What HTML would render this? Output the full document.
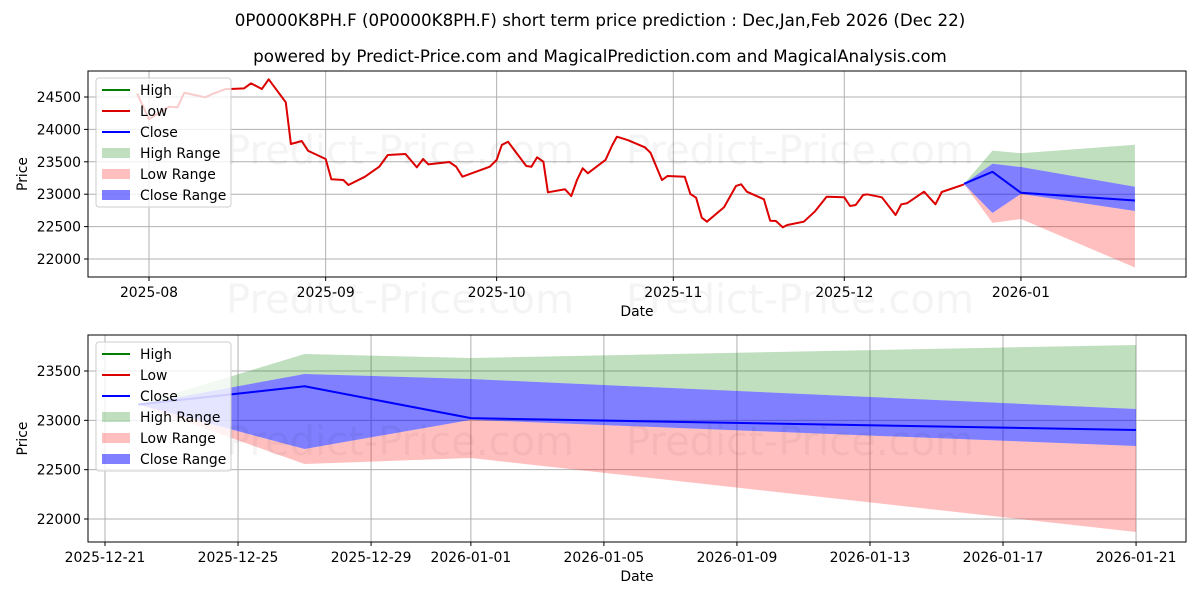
<!DOCTYPE html>
<html><head><meta charset="utf-8"><style>
body{margin:0;background:#fff;}
svg{display:block;font-family:"DejaVu Sans","Liberation Sans",sans-serif;}
</style></head><body>
<svg id="chart" width="1200" height="600" viewBox="0 0 1200 600">
<text x="600" y="26" text-anchor="middle" font-size="16.7">0P0000K8PH.F (0P0000K8PH.F) short term price prediction : Dec,Jan,Feb 2026 (Dec 22)</text>
<text x="600" y="62" text-anchor="middle" font-size="16.7">powered by Predict-Price.com and MagicalPrediction.com and MagicalAnalysis.com</text>
<g id="top"></g>
<g id="bot"></g>
<g font-size="40" fill="#000" fill-opacity="0.045" text-anchor="middle">
<text x="400" y="164">Predict-Price.com</text><text x="800" y="164">Predict-Price.com</text>
<text x="400" y="313">Predict-Price.com</text><text x="800" y="313">Predict-Price.com</text>
<text x="400" y="455">Predict-Price.com</text><text x="800" y="455">Predict-Price.com</text>
</g>
</svg>
<script>
// Day index relative to 2025-08-01
const histDays=[-2.1,0,3.5,5,6.2,9.9,11.1,13.3,16.7,17.9,19.8,21,24,24.9,26.8,27.9,31,32,34.1,35,37.9,40.4,41.9,45,47,48.1,49,52.7,53.9,55,59.8,61,61.9,63,66.2,67.1,68.1,69.2,70,73,74.1,75.1,76.1,77,80.1,81.3,82.1,84,87,88,90,91,94,95,96,97,97.9,100.9,103,103.9,104.9,107.9,109,110,111.2,112,114.9,116.8,118.9,122,123,124,125.3,126,128.6,131,132,133,136,138,139.1,143];
const histLow=[24557,24156,24350,24341,24566,24495,24546,24619,24634,24711,24623,24773,24418,23775,23821,23671,23543,23230,23219,23142,23270,23424,23605,23620,23415,23543,23461,23497,23424,23270,23424,23528,23759,23810,23435,23424,23569,23502,23029,23076,22972,23219,23400,23323,23528,23759,23887,23836,23724,23640,23219,23281,23270,23003,22946,22637,22576,22798,23127,23153,23039,22921,22591,22586,22489,22525,22576,22730,22961,22952,22818,22833,22988,22998,22952,22679,22844,22860,23039,22844,23034,23150];
const fcDays=[143,148,153,173];
const fcClose=[23160,23345,23022,22902];
const highUpper=[23160,23672,23632,23764];
const highLower=[23160,23470,23419,23115];
const lowUpper=[23160,22710,23005,22740];
const lowLower=[23160,22557,22618,21868];
const closeUpper=[23160,23470,23419,23115];
const closeLower=[23160,22710,23005,22740];
const topYTicks=[22000,22500,23000,23500,24000,24500];
const topXTickDays=[0,31,61,92,122,153];
const topXTickLabels=["2025-08","2025-09","2025-10","2025-11","2025-12","2026-01"];
const botYTicks=[22000,22500,23000,23500];
const botXTickDays=[142,146,150,153,157,161,165,169,173];
const botXTickLabels=["2025-12-21","2025-12-25","2025-12-29","2026-01-01","2026-01-05","2026-01-09","2026-01-13","2026-01-17","2026-01-21"];
</script>
<script>
const NS="http://www.w3.org/2000/svg";
function mk(parent,tag,attrs,text){const e=document.createElementNS(NS,tag);for(const k in attrs)e.setAttribute(k,attrs[k]);if(text!==undefined)e.textContent=text;parent.appendChild(e);return e;}
function panel(g,L,T,R,B,xs,ys,yTicks,xTickDays,xTickLabels,drawData){
  mk(g,'rect',{x:L,y:T,width:R-L,height:B-T,fill:'#fff'});
  const clip='c'+T;const d=mk(g,'clipPath',{id:clip});mk(d,'rect',{x:L,y:T,width:R-L,height:B-T});
  yTicks.forEach(v=>{const y=ys(v);
    const gl=mk(g,'line',{x1:L,x2:R,y1:y,y2:y,stroke:'#b0b0b0','stroke-width':1});
    
    
    mk(g,'line',{x1:L-4,x2:L,y1:y,y2:y,stroke:'#000'});
    const t=mk(g,'text',{x:L-7,y:y+5,'text-anchor':'end','font-size':13.9},String(v));
    
    });
  xTickDays.forEach((dd,i)=>{const x=xs(dd);
    const gl=mk(g,'line',{x1:x,x2:x,y1:T,y2:B,stroke:'#b0b0b0','stroke-width':1});
    
    
    mk(g,'line',{x1:x,x2:x,y1:B,y2:B+4,stroke:'#000'});
    const t=mk(g,'text',{x:x,y:B+20,'text-anchor':'middle','font-size':13.9},xTickLabels[i]);
    
    });
  const dg=mk(g,'g',{'clip-path':'url(#'+clip+')'});
  drawData(dg);
  mk(g,'rect',{x:L,y:T,width:R-L,height:B-T,fill:'none',stroke:'#000','stroke-width':1});
  const yl=mk(g,'text',{x:0,y:0,transform:`translate(27,${(T+B)/2}) rotate(-90)`,'text-anchor':'middle','font-size':13.9},'Price');
  
  
  const xl=mk(g,'text',{x:(L+R)/2,y:B+39,'text-anchor':'middle','font-size':13.9},'Date');
  
  
  const lg=mk(g,'g',{});
  
  
  const lx=L+8,ly=T+7;
  mk(lg,'rect',{x:lx,y:ly,width:135,height:129,rx:3,fill:'#fff','fill-opacity':0.8,stroke:'#ccc'});
  const items=[['High','line','green'],['Low','line','#d00'],['Close','line','#00f'],['High Range','rect','rgba(0,128,0,0.25)'],['Low Range','rect','rgba(255,0,0,0.25)'],['Close Range','rect','rgba(0,0,255,0.5)']];
  items.forEach((it,i)=>{const y=ly+12+i*21;
    const e=mk(lg,'g',{});
    
    
    if(it[1]=='line')mk(e,'line',{x1:lx+6,x2:lx+34,y1:y,y2:y,stroke:it[2],'stroke-width':2});
    else mk(e,'rect',{x:lx+6,y:y-5,width:28,height:10,fill:it[2]});
    mk(e,'text',{x:lx+44,y:y+5,'font-size':13.9},it[0]);});
}
function poly(g,xs,ys,days,up,lo,fill,name){
  let pts=days.map((d,i)=>xs(d)+','+ys(up[i]));
  for(let i=days.length-1;i>=0;i--)pts.push(xs(days[i])+','+ys(lo[i]));
  const p=mk(g,'polygon',{points:pts.join(' '),fill:fill});
  
  
}
function line(g,xs,ys,days,vals,color,name){
  const p=mk(g,'polyline',{points:days.map((d,i)=>xs(d)+','+ys(vals[i])).join(' '),fill:'none',stroke:color,'stroke-width':2,'stroke-linejoin':'round'});
  
  
}
function forecast(g,xs,ys){
  poly(g,xs,ys,fcDays,highUpper,highLower,'rgba(0,128,0,0.25)','high-range-band');
  poly(g,xs,ys,fcDays,lowUpper,lowLower,'rgba(255,0,0,0.25)','low-range-band');
  poly(g,xs,ys,fcDays,closeUpper,closeLower,'rgba(0,0,255,0.5)','close-range-band');
  line(g,xs,ys,fcDays,fcClose,'#00f','close-forecast-line');
}
const tx=d=>149+d*5.699, ty=v=>97+(24500-v)*0.0648;
panel(document.getElementById('top'),88,71,1186,277,tx,ty,topYTicks,topXTickDays,topXTickLabels,g=>{
  line(g,tx,ty,histDays,histLow,'#d00','low-history-line');
  forecast(g,tx,ty);
});
const bx=d=>105+(d-142)*33.26, by=v=>371+(23500-v)*0.09867;
panel(document.getElementById('bot'),88,335,1186,542,bx,by,botYTicks,botXTickDays,botXTickLabels,g=>{
  forecast(g,bx,by);
});
</script>
</body></html>
